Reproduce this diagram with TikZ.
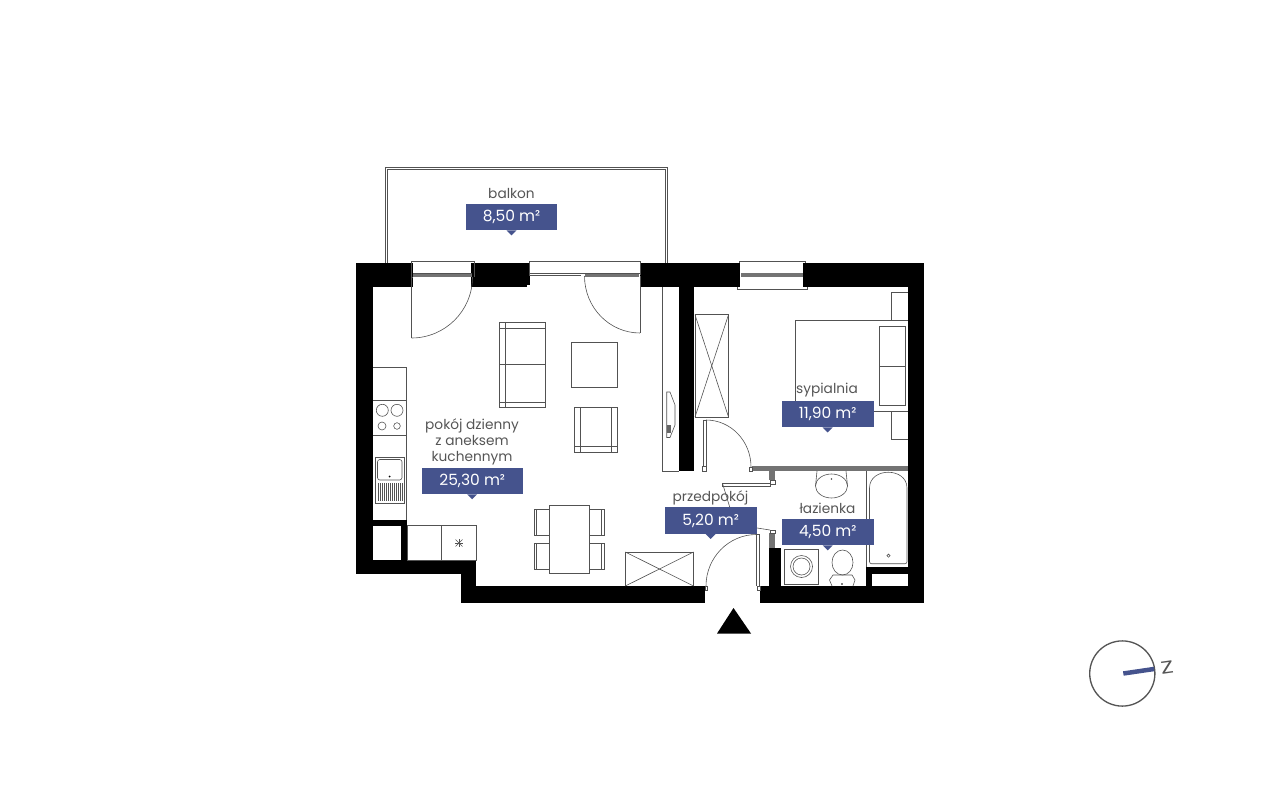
\documentclass[tikz,border=0pt]{standalone}
\usepackage{fontspec}
\setmainfont{Poppins}
\usetikzlibrary{calc}
\definecolor{planblue}{HTML}{45538D}
\definecolor{plantext}{HTML}{555555}
\tikzset{
	plan/.style={line width=0.42pt, color=black!68},
	wall/.style={fill=black, draw=none},
	greywall/.style={fill=black!55, draw=none},
	roomname/.style={text=plantext, font=\fontsize{9.75}{11.6}\selectfont, align=center, inner sep=0pt},
	areabox/.style={fill=planblue, text=white, font=\fontsize{11}{12}\selectfont, minimum width=2.29cm, minimum height=0.66cm, inner sep=0pt},
}
\def\areatip(#1){\fill[planblue] ($(#1.south)+(-5,0)$) -- ++(10,0) -- ++(-5,5) -- cycle;}
\def\quarter[#1](#2,#3)(#4,#5)(#6,#7){\draw[#1] (#2,#3) .. controls ({#2+0.5523*(#6-#2)},{#3+0.5523*(#7-#3)}) and ({#4+0.5523*(#6-#4)},{#5+0.5523*(#7-#5)}) .. (#4,#5);}
\begin{document}
\begin{tikzpicture}[x=0.025cm, y=-0.025cm]
	%%%%% START %%%%%
	\useasboundingbox (0, 0) rectangle (1280, 800);
	
	% balcony
	\draw[plan] (385, 263) -- (385, 167) -- (667, 167) -- (667, 263);
	\draw[plan] (387, 263) -- (387, 169) -- (665, 169) -- (665, 263);
	
	% walls
	\fill[wall] (356, 263) rectangle (413, 287);
	\fill[wall] (356, 263) rectangle (373, 574);
	\fill[wall] (471, 263) rectangle (530, 285);
	\fill[wall] (471, 285) rectangle (527, 287);
	\fill[wall] (640, 263) rectangle (740, 287);
	\fill[wall] (803, 263) rectangle (924, 287);
	\fill[wall] (908, 263) rectangle (924, 603);
	\fill[wall] (356, 560) rectangle (476, 574);
	\fill[wall] (461, 560) rectangle (476, 603);
	\fill[wall] (461, 586) rectangle (705, 603);
	\fill[wall] (760, 586) rectangle (924, 603);
	\fill[wall] (769, 548) rectangle (781, 586);
	\fill[wall] (866, 567) rectangle (908, 574);
	\fill[wall] (866, 567) rectangle (872, 586);
	\fill[wall] (679, 287) rectangle (694, 471);
	\fill[wall] (373, 520) rectangle (407, 526);
	\fill[wall] (401, 520) rectangle (407, 560);
	\fill[greywall] (752, 466) rectangle (908, 471);
	\fill[greywall] (769, 471) rectangle (775, 480);
	\fill[greywall] (769, 533) rectangle (775, 548);
	
	% windows and balcony doors
	\draw[plan] (413, 277) -- (411, 277) -- (411, 261.5) -- (474, 261.5) -- (474, 277);
	\draw[plan] (413, 273) -- (472, 273);
	\fill[greywall] (413, 274) rectangle (472, 277);
	\draw[plan] (411.5, 277) -- (411.5, 338);
	\quarter[plan](411.5, 338)(472.5, 277)(472.5, 338);
	\draw[plan] (529, 275) -- (529, 261.5) -- (640, 261.5) -- (640, 275);
	\draw[plan] (529, 273) -- (640, 273);
	\draw[plan] (529, 275) -- (581, 275);
	\fill[greywall] (585, 274) rectangle (639, 277);
	\draw[plan] (640, 276) -- (640, 333);
	\quarter[plan](640, 333)(584.5, 276)(584.5, 333);
	\fill[white] (741, 263) rectangle (803, 289);
	\draw[plan] (739, 263) -- (739, 261.5) -- (805, 261.5) -- (805, 263);
	\draw[plan] (737, 289) -- (807, 289) -- (807, 287);
	\draw[plan] (737, 289) -- (737, 287);
	\fill[greywall] (741, 273) rectangle (803, 277);
	
	% kitchen
	\draw[plan] (373, 367) -- (406.5, 367) -- (406.5, 520);
	\draw[plan] (373, 400.5) -- (406.5, 400.5);
	\draw[plan] (373, 435) -- (406.5, 435);
	\draw[plan] (382.3, 410.3) circle (6);
	\draw[plan] (397, 410.3) circle (6);
	\draw[plan] (382, 426) circle (4);
	\draw[plan] (397, 426) circle (3.3);
	\draw[plan] (375.5, 457) rectangle (404.5, 503);
	\draw[plan, rounded corners=0.06cm] (377.5, 459.5) rectangle (402, 480);
	\fill[black] (389.5, 476.5) circle (1);
	\foreach \hatchx in {378, 380, ..., 402}
	{
		\draw[plan] (\hatchx, 483) -- (\hatchx, 501);
	}
	\draw[plan] (407, 525.5) rectangle (476, 560);
	\draw[plan] (441.7, 525.5) -- (441.7, 560);
	\draw[plan] (455.5, 539.5) -- (462.5, 546.5);
	\draw[plan] (462.5, 539.5) -- (455.5, 546.5);
	\draw[plan] (455, 543) -- (463, 543);
	\draw[plan] (459, 539) -- (459, 547);
	
	% sofa and tables
	\draw[plan] (499.3, 322.3) rectangle (545.3, 407.3);
	\draw[plan] (499.3, 328) -- (545.3, 328);
	\draw[plan] (499.3, 364.5) -- (545.3, 364.5);
	\draw[plan] (499.3, 402) -- (545.3, 402);
	\draw[plan] (505, 322.3) -- (505, 407.3);
	\draw[plan] (571.5, 342) rectangle (617, 387.5);
	\draw[plan] (574.3, 407) rectangle (617.3, 452.5);
	\draw[plan] (580.5, 407) -- (580.5, 452.5);
	\draw[plan] (611, 407) -- (611, 452.5);
	\draw[plan] (574.3, 446) -- (617.3, 446);
	\foreach \chairy in {509, 543}
	{
		\draw[plan] (534, \chairy) rectangle (604.5, \chairy+26);
		\draw[plan] (536.5, \chairy) -- (536.5, \chairy+26);
		\draw[plan] (601.5, \chairy) -- (601.5, \chairy+26);
	}
	\draw[plan, fill=white] (549.5, 505) rectangle (589.5, 573.5);
	
	% closets
	\draw[plan] (625.3, 586) -- (625.3, 552) -- (693.5, 552) -- (693.5, 586);
	\draw[plan] (625.3, 586) -- (693.5, 552);
	\draw[plan] (625.3, 552) -- (693.5, 586);
	\draw[plan] (695, 314.7) rectangle (728.5, 417);
	\draw[plan] (695, 314.7) -- (728.5, 417);
	\draw[plan] (728.5, 314.7) -- (695, 417);
	
	% tv unit
	\draw[plan] (679, 471) -- (662.3, 471) -- (662.3, 287);
	\draw[plan] (666.7, 392) -- (670, 392) -- (675, 405) -- (675, 425) -- (670, 437.5) -- (666.7, 437.5) -- cycle;
	\fill[black!60] (667, 425) rectangle (671, 433);
	
	% bedroom
	\draw[plan] (795, 411) -- (795, 320.5) -- (908, 320.5);
	\draw[plan] (795, 411) -- (908, 411);
	\draw[plan] (908, 292.5) -- (891.5, 292.5) -- (891.5, 320.5);
	\draw[plan] (908, 439.5) -- (891.5, 439.5) -- (891.5, 411);
	\draw[plan] (879.5, 326.5) rectangle (905.5, 405.5);
	\draw[plan] (879.5, 366) -- (905.5, 366);
	
	% inner doors
	\draw[plan] (703, 466) -- (703, 420) -- (706, 420) -- (706, 466);
	\quarter[plan](706, 420)(751, 467)(751, 420);
	\draw[plan, fill=white] (702, 466) rectangle (706, 471);
	\draw[plan, fill=white] (749.5, 467) rectangle (752, 471);
	\draw[plan] (722.7, 483) rectangle (770, 486);
	\draw[plan] (722.7, 484) -- (730, 508);
	\draw[plan] (757, 528) -- (770, 530);
	\draw[plan, fill=white] (770, 480) rectangle (775, 484);
	\draw[plan, fill=white] (770, 530) rectangle (775, 533);
	
	% entrance
	\draw[plan] (756.5, 586) -- (756.5, 534.5) -- (759.3, 534.5) -- (759.3, 586);
	\quarter[plan](706, 586)(756.5, 534.5)(706, 534.5);
	\draw[plan, fill=white] (705, 586) rectangle (707.5, 590);
	\draw[plan, fill=white] (757, 586) rectangle (760, 590);
	\coordinate (entryleft) at (717, 633.5);
	\coordinate (entryright) at (751, 633.5);
	\coordinate (entrytop) at (733.5, 608);
	\fill[black] (entryleft) -- (entrytop) -- (entryright) -- cycle;
	
	% bathroom
	\draw[plan] (866, 471) -- (866, 567);
	\draw[plan, rounded corners=0.05cm] (869.5, 563.7) -- (869.5, 490) .. controls (869.5, 467) and (907, 467) .. (907, 490) -- (907, 563.7) -- cycle;
	\draw[plan] (888.5, 555.7) circle (1.6);
	\draw[plan] (831.5, 486) ellipse (16 and 12);
	\draw[plan] (817, 471) -- (815.5, 486);
	\draw[plan] (846, 471) -- (847.5, 486);
	\fill[black!70] (831.5, 479) circle (0.9);
	\draw[plan] (784, 549) rectangle (818.5, 584);
	\draw[plan] (801.5, 566.5) circle (11);
	\draw[plan] (801.5, 566.5) circle (8.5);
	\draw[plan] (842.5, 562.5) ellipse (10.5 and 12.5);
	\draw[plan] (832, 586) -- (829.5, 580) -- (833, 575) -- (852, 575) -- (855, 580) -- (853, 586);
	\fill[black] (842, 584) circle (0.9);
	
	% room labels
	\node[roomname] (balkonname) at (511.5, 193.5) {balkon};
	\node[areabox] (balkonarea) at (511.5, 217) {8,50 m²};
	\areatip(balkonarea);
	\node[roomname] (pokojname) at (472, 442) {pokój dzienny\\z aneksem\\kuchennym};
	\node[areabox, minimum width=2.52cm] (pokojarea) at (472.2, 480.8) {25,30 m²};
	\areatip(pokojarea);
	\node[roomname] (sypialnianame) at (827, 390.5) {sypialnia};
	\node[areabox] (sypialniaarea) at (827.7, 414) {11,90 m²};
	\areatip(sypialniaarea);
	\node[roomname] (przedpokojname) at (710.5, 497.5) {przedpokój};
	\node[areabox] (przedpokojarea) at (710.7, 520.5) {5,20 m²};
	\areatip(przedpokojarea);
	\node[roomname] (lazienkaname) at (827.5, 508.5) {łazienka};
	\node[areabox] (lazienkaarea) at (827.7, 531.8) {4,50 m²};
	\areatip(lazienkaarea);
	
	% compass
	\draw[line width=0.95pt, color=plantext] (1122.3, 673.5) circle (32.6);
	\draw[line width=3.2pt, color=planblue] (1123.3, 673.5) -- (1154, 669);
	\node[text=plantext, font=\fontsize{12.5}{13}\selectfont, rotate=8, xscale=1.35, inner sep=0pt] (compassz) at (1167, 667.5) {Z};
	
	%%%%% END %%%%%
\end{tikzpicture}
\end{document}
